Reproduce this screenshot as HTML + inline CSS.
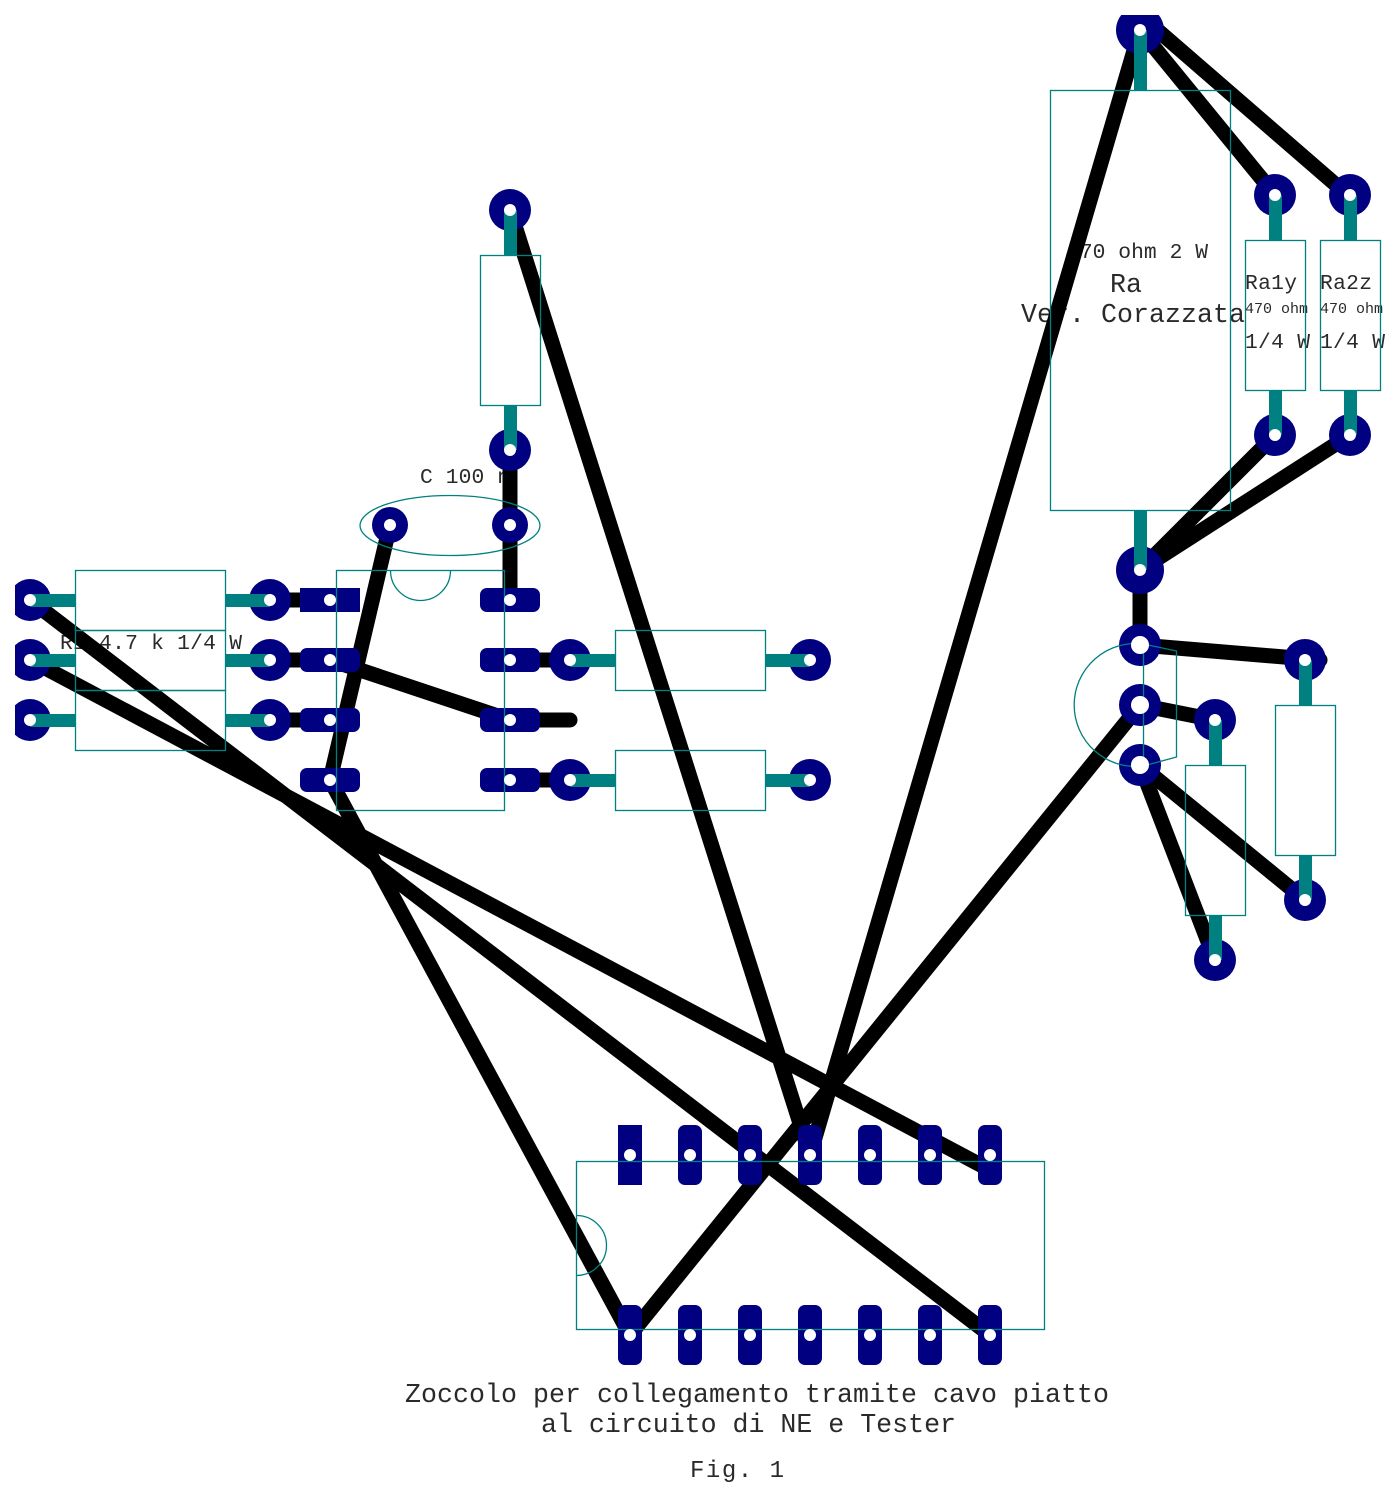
<!DOCTYPE html>
<html>
<head>
<meta charset="utf-8">
<title>Fig. 1</title>
<style>
html,body{margin:0;padding:0;background:#fff;}
svg{display:block;}
text{font-family:"Liberation Mono",monospace;fill:#2a2a2a;white-space:pre;}
</style>
</head>
<body>
<svg xmlns="http://www.w3.org/2000/svg" width="1400" height="1497" viewBox="0 0 1400 1497">
<defs><clipPath id="c"><rect x="15" y="15" width="1385" height="1482"/></clipPath></defs>
<g clip-path="url(#c)">
<!-- text -->
<text x="420" y="483" font-size="21.3" textLength="90">C 100 n</text>
<text x="60" y="649" font-size="21.3" textLength="182">R1 4.7 k 1/4 W</text>
<text x="1067" y="258" font-size="21.3" textLength="141">470 ohm 2 W</text>
<text x="1110" y="292" font-size="26.6" textLength="32">Ra</text>
<text x="1021" y="322" font-size="26.6" textLength="224">Ver. Corazzata</text>
<text x="1245" y="289" font-size="21.3" textLength="52">Ra1y</text>
<text x="1320" y="289" font-size="21.3" textLength="52">Ra2z</text>
<text x="1245" y="313" font-size="15" textLength="63">470 ohm</text>
<text x="1320" y="313" font-size="15" textLength="63">470 ohm</text>
<text x="1245" y="348" font-size="21.3" textLength="65">1/4 W</text>
<text x="1320" y="348" font-size="21.3" textLength="65">1/4 W</text>
<text x="405" y="1402" font-size="26.6" textLength="704">Zoccolo per collegamento tramite cavo piatto</text>
<text x="541" y="1432" font-size="26.6" textLength="415">al circuito di NE e Tester</text>
<text x="690" y="1477" font-size="24" textLength="94">Fig. 1</text>

<!-- black traces -->
<g stroke="#000" stroke-width="15" stroke-linecap="round" fill="none">
<path d="M1140 30L1275 195M1140 15L1350 197M1140 30L810 1155M1275 435L1140 570M1350 435L1140 570M1140 570L1140 645M1140 645L1320 660M1140 705L1215 720M1140 705L630 1335M1140 765L1215 960M1140 765L1305 900M510 210L810 1155M510 450L510 600M390 525L330 780L630 1335M270 600L330 600M270 660L330 660M270 720L330 720M330 660L510 720L570 720M510 660L570 660M510 780L570 780M30 600L990 1335M30 660L990 1170"/>
</g>

<!-- navy pads -->
<g fill="#000080">
<circle cx="1140" cy="30" r="24"/><circle cx="1140" cy="570" r="24"/>
<circle cx="1275" cy="195" r="21"/><circle cx="1350" cy="195" r="21"/>
<circle cx="1275" cy="435" r="21"/><circle cx="1350" cy="435" r="21"/>
<circle cx="510" cy="210" r="21"/><circle cx="510" cy="450" r="21"/>
<circle cx="390" cy="525" r="18"/><circle cx="510" cy="525" r="18"/>
<circle cx="30" cy="600" r="21"/><circle cx="30" cy="660" r="21"/><circle cx="30" cy="720" r="21"/>
<circle cx="270" cy="600" r="21"/><circle cx="270" cy="660" r="21"/><circle cx="270" cy="720" r="21"/>
<circle cx="570" cy="660" r="21"/><circle cx="810" cy="660" r="21"/>
<circle cx="570" cy="780" r="21"/><circle cx="810" cy="780" r="21"/>
<circle cx="1140" cy="645" r="21"/><circle cx="1140" cy="705" r="21"/><circle cx="1140" cy="765" r="21"/>
<circle cx="1305" cy="660" r="21"/><circle cx="1305" cy="900" r="21"/>
<circle cx="1215" cy="720" r="21"/><circle cx="1215" cy="960" r="21"/>
<!-- DIP8 pads -->
<rect x="300" y="588" width="60" height="24"/>
<rect x="300" y="648" width="60" height="24" rx="7"/>
<rect x="300" y="708" width="60" height="24" rx="7"/>
<rect x="300" y="768" width="60" height="24" rx="7"/>
<rect x="480" y="588" width="60" height="24" rx="7"/>
<rect x="480" y="648" width="60" height="24" rx="7"/>
<rect x="480" y="708" width="60" height="24" rx="7"/>
<rect x="480" y="768" width="60" height="24" rx="7"/>
<!-- socket pads -->
<rect x="618" y="1125" width="24" height="60"/>
<rect x="678" y="1125" width="24" height="60" rx="7"/>
<rect x="738" y="1125" width="24" height="60" rx="7"/>
<rect x="798" y="1125" width="24" height="60" rx="7"/>
<rect x="858" y="1125" width="24" height="60" rx="7"/>
<rect x="918" y="1125" width="24" height="60" rx="7"/>
<rect x="978" y="1125" width="24" height="60" rx="7"/>
<rect x="618" y="1305" width="24" height="60" rx="7"/>
<rect x="678" y="1305" width="24" height="60" rx="7"/>
<rect x="738" y="1305" width="24" height="60" rx="7"/>
<rect x="798" y="1305" width="24" height="60" rx="7"/>
<rect x="858" y="1305" width="24" height="60" rx="7"/>
<rect x="918" y="1305" width="24" height="60" rx="7"/>
<rect x="978" y="1305" width="24" height="60" rx="7"/>
</g>

<!-- outlines -->
<g fill="none" stroke="#008080" stroke-width="1.3">
<rect x="1050.5" y="90.5" width="180" height="420"/>
<rect x="1245.5" y="240.5" width="60" height="150"/>
<rect x="1320.5" y="240.5" width="60" height="150"/>
<rect x="1275.5" y="705.5" width="60" height="150"/>
<rect x="1185.5" y="765.5" width="60" height="150"/>
<rect x="480.5" y="255.5" width="60" height="150"/>
<rect x="75.5" y="570.5" width="150" height="60"/>
<rect x="75.5" y="630.5" width="150" height="60"/>
<rect x="75.5" y="690.5" width="150" height="60"/>
<rect x="615.5" y="630.5" width="150" height="60"/>
<rect x="615.5" y="750.5" width="150" height="60"/>
<rect x="336.5" y="570.5" width="168" height="240"/>
<rect x="576.5" y="1161.5" width="468" height="168"/>
<ellipse cx="450" cy="525.5" rx="90" ry="30"/>
<path d="M390.5 570.5A30 30 0 0 0 450.5 570.5"/>
<path d="M576.5 1215.5A30 30 0 0 1 576.5 1275.5"/>
<path d="M1143.5 644A61.5 61.5 0 1 0 1143.5 766M1143.5 644L1176.5 651L1176.5 757L1143.5 766L1143.5 644"/>
</g>

<!-- teal leads -->
<g stroke="#008080" stroke-width="13" fill="none">
<path d="M1140.5 30V90M1140.5 510V570M1275.5 195V240M1275.5 390V435M1350.5 195V240M1350.5 390V435M510.5 210V255M510.5 405V450M1305.5 660V705M1305.5 855V900M1215.5 720V765M1215.5 915V960"/>
<path d="M30 600.5H75M225 600.5H270M30 660.5H75M225 660.5H270M30 720.5H75M225 720.5H270M570 660.5H615M765 660.5H810M570 780.5H615M765 780.5H810"/>
</g>

<!-- holes -->
<g fill="#fff">
<circle cx="1140" cy="30" r="6"/><circle cx="1140" cy="570" r="6"/>
<circle cx="1275" cy="195" r="6"/><circle cx="1350" cy="195" r="6"/>
<circle cx="1275" cy="435" r="6"/><circle cx="1350" cy="435" r="6"/>
<circle cx="510" cy="210" r="6"/><circle cx="510" cy="450" r="6"/>
<circle cx="390" cy="525" r="6"/><circle cx="510" cy="525" r="6"/>
<circle cx="30" cy="600" r="6"/><circle cx="30" cy="660" r="6"/><circle cx="30" cy="720" r="6"/>
<circle cx="270" cy="600" r="6"/><circle cx="270" cy="660" r="6"/><circle cx="270" cy="720" r="6"/>
<circle cx="570" cy="660" r="6"/><circle cx="810" cy="660" r="6"/>
<circle cx="570" cy="780" r="6"/><circle cx="810" cy="780" r="6"/>
<circle cx="1140" cy="645" r="9"/><circle cx="1140" cy="705" r="9"/><circle cx="1140" cy="765" r="9"/>
<circle cx="1305" cy="660" r="6"/><circle cx="1305" cy="900" r="6"/>
<circle cx="1215" cy="720" r="6"/><circle cx="1215" cy="960" r="6"/>
<circle cx="330" cy="600" r="6"/><circle cx="330" cy="660" r="6"/><circle cx="330" cy="720" r="6"/><circle cx="330" cy="780" r="6"/>
<circle cx="510" cy="600" r="6"/><circle cx="510" cy="660" r="6"/><circle cx="510" cy="720" r="6"/><circle cx="510" cy="780" r="6"/>
<circle cx="630" cy="1155" r="6"/><circle cx="690" cy="1155" r="6"/><circle cx="750" cy="1155" r="6"/><circle cx="810" cy="1155" r="6"/><circle cx="870" cy="1155" r="6"/><circle cx="930" cy="1155" r="6"/><circle cx="990" cy="1155" r="6"/>
<circle cx="630" cy="1335" r="6"/><circle cx="690" cy="1335" r="6"/><circle cx="750" cy="1335" r="6"/><circle cx="810" cy="1335" r="6"/><circle cx="870" cy="1335" r="6"/><circle cx="930" cy="1335" r="6"/><circle cx="990" cy="1335" r="6"/>
</g>
</g>
</svg>
</body>
</html>
